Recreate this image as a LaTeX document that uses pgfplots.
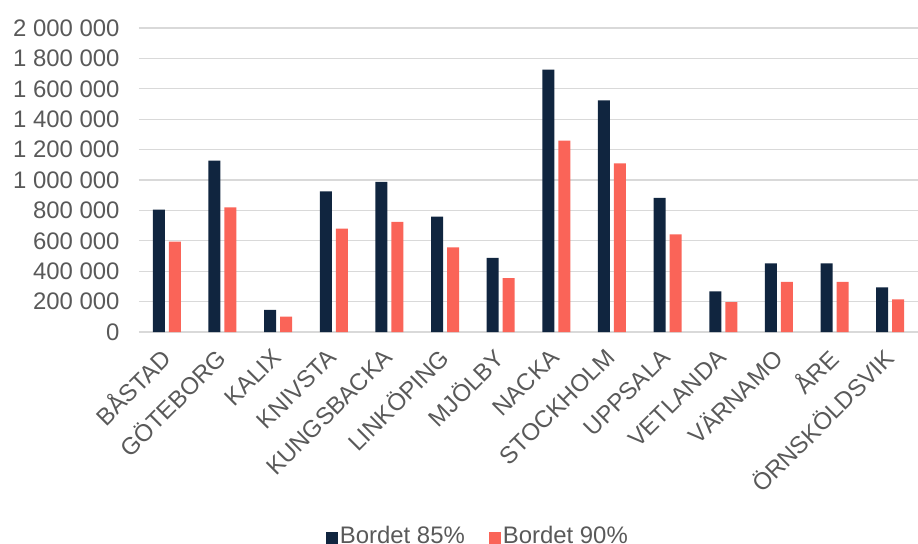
\documentclass[border=0pt]{standalone}
\usepackage{pgfplots}
\pgfplotsset{compat=1.18}
\usepackage{fontspec}
\setmainfont{Liberation Sans}
\definecolor{navy}{RGB}{16,37,63}
\definecolor{coral}{RGB}{250,100,88}
\definecolor{txt}{RGB}{89,89,89}
\definecolor{grd}{RGB}{217,217,217}
\begin{document}
\begin{tikzpicture}
\begin{axis}[
  at={(0,0)}, anchor=south west,
  scale only axis,
  width=779bp, height=304bp,
  ybar, bar width=12bp,
  xmin=-0.5, xmax=13.5,
  ymin=0, ymax=2000000,
  xtick={0,...,13},
  xticklabels={BÅSTAD,GÖTEBORG,KALIX,KNIVSTA,KUNGSBACKA,LINKÖPING,MJÖLBY,NACKA,STOCKHOLM,UPPSALA,VETLANDA,VÄRNAMO,ÅRE,ÖRNSKÖLDSVIK},
  ytick={0,200000,400000,600000,800000,1000000,1200000,1400000,1600000,1800000,2000000},
  yticklabels={0,200 000,400 000,600 000,800 000,1 000 000,1 200 000,1 400 000,1 600 000,1 800 000,2 000 000},
  scaled y ticks=false,
  major tick length=0pt,
  axis line style={draw=none},
  ymajorgrids=true,
  grid style={grd, line width=1.3bp},
  tick label style={font=\fontsize{24}{27}\selectfont, text=txt},
  yticklabel style={anchor=east, xshift=-16bp},
  xticklabel style={xshift=1bp, yshift=-19bp, rotate=45, anchor=east},
  legend style={at={(0.435,-0.669)}, anchor=center, draw=none, fill=none,
    legend columns=2, font=\fontsize{24}{27}\selectfont, text=txt,
    /tikz/every even column/.append style={column sep=22bp}},
  legend image code/.code={\fill[#1] (-4bp,-9bp) rectangle (8bp,3bp);},
]
\addplot[fill=navy, draw=none, bar shift=-8bp] coordinates {
  (0,805000)(1,1127000)(2,145000)(3,925000)(4,987000)(5,759000)(6,487000)
  (7,1726000)(8,1524000)(9,882000)(10,268000)(11,452000)(12,452000)(13,294000)
};
\addplot[fill=coral, draw=none, bar shift=8bp] coordinates {
  (0,594000)(1,820000)(2,101000)(3,680000)(4,724000)(5,557000)(6,355000)
  (7,1259000)(8,1110000)(9,643000)(10,197000)(11,329000)(12,329000)(13,215000)
};
\legend{Bordet 85\%,Bordet 90\%}
\end{axis}
\pgfresetboundingbox
\path[use as bounding box] (-139bp,-212bp) rectangle (779bp,332bp);
\end{tikzpicture}
\end{document}
